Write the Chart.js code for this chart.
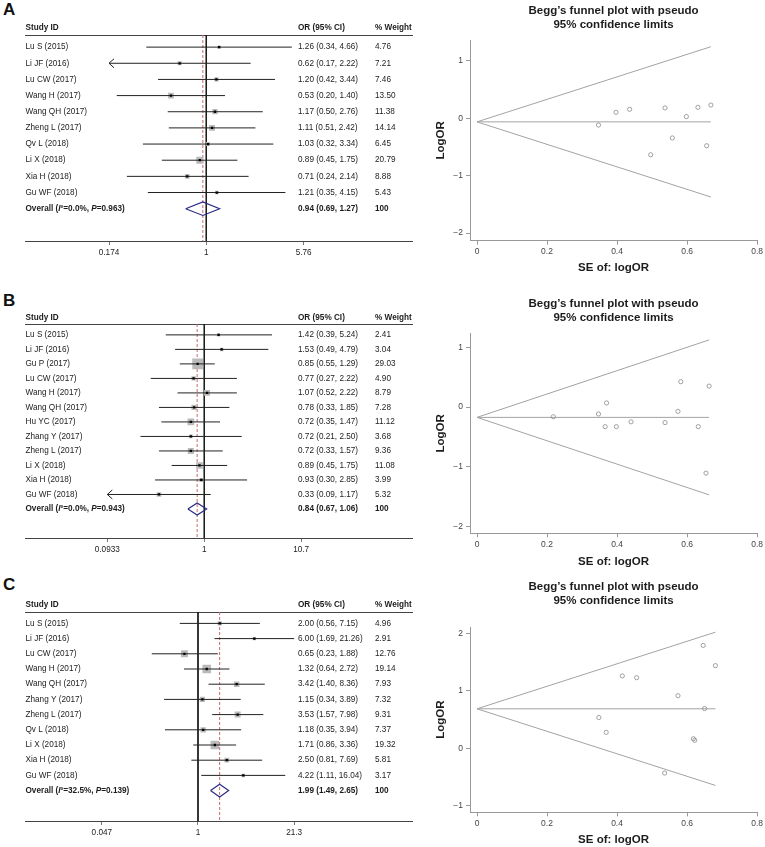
<!DOCTYPE html>
<html>
<head>
<meta charset="utf-8">
<script src="https://cdn.jsdelivr.net/npm/chart.js@4.4.1/dist/chart.umd.min.js"></script>
<style>
html,body{margin:0;padding:0;background:#fff;}
body{width:765px;height:847px;position:relative;overflow:hidden;font-family:"Liberation Sans",Arial,Helvetica,sans-serif;}
canvas{position:absolute;}
.lab{position:absolute;font-weight:bold;font-size:17px;line-height:17px;color:#111;}
</style>
</head>
<body>
<div class="lab" style="left:3px;top:1px">A</div>
<div class="lab" style="left:3px;top:292px">B</div>
<div class="lab" style="left:3px;top:576px">C</div>
<canvas id="forestA" width="420" height="270" style="left:0;top:0"></canvas>
<canvas id="forestB" width="420" height="270" style="left:0;top:290px"></canvas>
<canvas id="forestC" width="420" height="272" style="left:0;top:575px"></canvas>
<canvas id="funnelA" width="345" height="280" style="left:420px;top:0"></canvas>
<canvas id="funnelB" width="345" height="285" style="left:420px;top:285px"></canvas>
<canvas id="funnelC" width="345" height="277" style="left:420px;top:570px"></canvas>
<script>
// ================= DATA =================
// ---- Panel A ----
const studiesA = ["Lu S (2015)","Li JF (2016)","Lu CW (2017)","Wang H (2017)","Wang QH (2017)","Zheng L (2017)","Qv L (2018)","Li X (2018)","Xia H (2018)","Gu WF (2018)"];
const orA     = [1.26,0.62,1.20,0.53,1.17,1.11,1.03,0.89,0.71,1.21];
const loA     = [0.34,0.17,0.42,0.20,0.50,0.51,0.32,0.45,0.24,0.35];
const hiA     = [4.66,2.22,3.44,1.40,2.76,2.42,3.34,1.75,2.14,4.15];
const weightA = [4.76,7.21,7.46,13.50,11.38,14.14,6.45,20.79,8.88,5.43];
const overallA = [0.94,0.69,1.27];
const overallLabelA = "Overall (I\u00B2=0.0%, P=0.963)";
const xTicksA = [0.174,1,5.76];
const xTickLabelsA = ["0.174","1","5.76"];
const seA     = [0.668,0.656,0.537,0.496,0.436,0.397,0.598,0.347,0.558,0.631];
const logOrA  = [0.231,-0.478,0.182,-0.635,0.157,0.104,0.030,-0.117,-0.342,0.191];
const funnelA = [-0.062,0.668,1.247,-1.371];   // pooled logOR, max SE, upper limit, lower limit
const funnelYTicksA = [-2,-1,0,1];

// ---- Panel B ----
const studiesB = ["Lu S (2015)","Li JF (2016)","Gu P (2017)","Lu CW (2017)","Wang H (2017)","Wang QH (2017)","Hu YC (2017)","Zhang Y (2017)","Zheng L (2017)","Li X (2018)","Xia H (2018)","Gu WF (2018)"];
const orB     = [1.42,1.53,0.85,0.77,1.07,0.78,0.72,0.72,0.72,0.89,0.93,0.33];
const loB     = [0.39,0.49,0.55,0.27,0.52,0.33,0.35,0.21,0.33,0.45,0.30,0.09];
const hiB     = [5.24,4.79,1.29,2.22,2.22,1.85,1.47,2.50,1.57,1.75,2.85,1.17];
const weightB = [2.41,3.04,29.03,4.90,8.79,7.28,11.12,3.68,9.36,11.08,3.99,5.32];
const overallB = [0.84,0.67,1.06];
const overallLabelB = "Overall (I\u00B2=0.0%, P=0.943)";
const xTicksB = [0.0933,1,10.7];
const xTickLabelsB = ["0.0933","1","10.7"];
const seB     = [0.663,0.582,0.218,0.537,0.370,0.440,0.366,0.632,0.398,0.347,0.574,0.654];
const logOrB  = [0.351,0.425,-0.163,-0.261,0.068,-0.248,-0.329,-0.329,-0.329,-0.117,-0.073,-1.109];
const funnelB = [-0.174,0.663,1.126,-1.474];
const funnelYTicksB = [-2,-1,0,1];

// ---- Panel C ----
const studiesC = ["Lu S (2015)","Li JF (2016)","Lu CW (2017)","Wang H (2017)","Wang QH (2017)","Zhang Y (2017)","Zheng L (2017)","Qv L (2018)","Li X (2018)","Xia H (2018)","Gu WF (2018)"];
const orC     = [2.00,6.00,0.65,1.32,3.42,1.15,3.53,1.18,1.71,2.50,4.22];
const loC     = [0.56,1.69,0.23,0.64,1.40,0.34,1.57,0.35,0.86,0.81,1.11];
const hiC     = [7.15,21.26,1.88,2.72,8.36,3.89,7.98,3.94,3.36,7.69,16.04];
const weightC = [4.96,2.91,12.76,19.14,7.93,7.32,9.31,7.37,19.32,5.81,3.17];
const overallC = [1.99,1.49,2.65];
const overallLabelC = "Overall (I\u00B2=32.5%, P=0.139)";
const xTicksC = [0.047,1,21.3];
const xTickLabelsC = ["0.047","1","21.3"];
const seC     = [0.650,0.646,0.536,0.369,0.456,0.622,0.415,0.618,0.348,0.574,0.681];
const logOrC  = [0.693,1.792,-0.431,0.278,1.230,0.140,1.261,0.166,0.536,0.916,1.440];
const funnelC = [0.688,0.681,2.023,-0.647];
const funnelYTicksC = [-1,0,1,2];

// ---- shared ----
const headerLabels = ["Study ID","OR (95% CI)","% Weight"];
const overallWeight = "100";
const funnelXTicks = [0,0.2,0.4,0.6,0.8];
const funnelXTickLabels = ["0","0.2","0.4","0.6","0.8"];
const funnelTitle = ["Begg\u2019s funnel plot with pseudo","95% confidence limits"];
const funnelXTitle = "SE of: logOR";
const funnelYTitle = "LogOR";

// ================= DRAWING =================
const FONT = '"Liberation Sans", Arial, Helvetica, sans-serif';
const TXT = '#1c1c1c';
const FSIZE = 8.2;

// draws the overall label (with italic I and P), the OR (95% CI) and % Weight columns,
// and the arrows of truncated confidence intervals
const tablePlugin = {
  id: 'forestTable',
  afterDraw(chart, args, o) {
    if (!o || !o.rows) return;
    const xs = chart.scales.x, ys = chart.scales.y, ctx = chart.ctx, left = chart.chartArea.left;
    ctx.save();
    ctx.textBaseline = 'middle';
    ctx.textAlign = 'left';
    ctx.fillStyle = TXT;
    o.rows.forEach(r => {
      ctx.font = (r.bold ? 'bold ' : '') + FSIZE + 'px ' + FONT;
      const py = ys.getPixelForValue(r.y);
      ctx.fillText(r.c1, left + o.col1, py);
      ctx.fillText(r.c2, left + o.col2, py);
    });
    // overall label, rich text
    const py = ys.getPixelForValue(o.overallRow);
    let x = left;
    o.overallLabel.split(/(I(?=\u00B2)|P(?==))/).forEach((seg, k) => {
      if (!seg) return;
      ctx.font = (k % 2 === 1 ? 'italic ' : '') + 'bold ' + FSIZE + 'px ' + FONT;
      ctx.fillText(seg, x, py);
      x += ctx.measureText(seg).width;
    });
    ctx.strokeStyle = '#222';
    ctx.lineWidth = 1;
    o.lo.forEach((l, i) => {
      if (l < o.limit) {
        const px = xs.getPixelForValue(o.limit), pyy = ys.getPixelForValue(i);
        ctx.beginPath();
        ctx.moveTo(px + 5, pyy - 4.5);
        ctx.lineTo(px, pyy);
        ctx.lineTo(px + 5, pyy + 4.5);
        ctx.stroke();
      }
    });
    ctx.restore();
  }
};

function forest(id, d, g) {
  const n = d.studies.length;
  const yMin = -0.75, yMax = n + 2, headerRow = -1.2;
  const rowTicks = [headerRow].concat(d.studies.map((s, i) => i));
  const limLo = d.ticks[0], limHi = d.ticks[d.ticks.length - 1];
  const [o, ol, oh] = d.overall;
  const fmt = v => v.toFixed(2);
  const ds = [];
  ds.push({data: d.or.map((v, i) => ({x: v, y: i})), pointStyle: 'rect', pointRadius: 1.6,
           backgroundColor: '#000', borderWidth: 0, order: 0});
  ds.push({data: [{x: ol, y: n}, {x: o, y: n - 0.42}, {x: oh, y: n}, {x: o, y: n + 0.42}, {x: ol, y: n}],
           showLine: true, borderColor: '#2b2b85', borderWidth: 1.2, pointRadius: 0, fill: false, order: 1});
  d.lo.forEach((l, i) => ds.push({data: [{x: Math.max(l, limLo), y: i}, {x: Math.min(d.hi[i], limHi), y: i}],
           showLine: true, borderColor: '#222', borderWidth: 1, pointRadius: 0, order: 2}));
  ds.push({data: d.or.map((v, i) => ({x: v, y: i})), pointStyle: 'rect',
           pointRadius: d.w.map(w => Math.sqrt(w) * g.boxScale),
           backgroundColor: '#bababa', borderWidth: 0, order: 3});
  ds.push({data: [{x: 1, y: yMin}, {x: 1, y: yMax}], showLine: true, borderColor: '#1a1a1a',
           borderWidth: 1, pointRadius: 0, order: 4});
  ds.push({data: [{x: o, y: yMin}, {x: o, y: yMax}], showLine: true, borderColor: '#c96a6a',
           borderWidth: 1, borderDash: [3, 2], pointRadius: 0, order: 5});

  const rows = [{y: headerRow, c1: headerLabels[1], c2: headerLabels[2], bold: true}];
  d.or.forEach((v, i) => rows.push({y: i, c1: `${fmt(v)} (${fmt(d.lo[i])}, ${fmt(d.hi[i])})`, c2: fmt(d.w[i]), bold: false}));
  rows.push({y: n, c1: `${fmt(o)} (${fmt(ol)}, ${fmt(oh)})`, c2: overallWeight, bold: true});

  new Chart(document.getElementById(id), {
    type: 'scatter',
    data: {datasets: ds},
    plugins: [tablePlugin],
    options: {
      responsive: false, animation: false, events: [],
      layout: {padding: {left: 25.5, right: 8, top: g.padTop, bottom: g.padBottom}},
      plugins: {legend: {display: false}, tooltip: {enabled: false},
                forestTable: {rows: rows, col1: 272.5, col2: 349.5, lo: d.lo, limit: limLo,
                              overallRow: n, overallLabel: d.overallLabel}},
      scales: {
        x: {type: 'logarithmic', min: g.xmin, max: g.xmax, position: 'bottom',
            afterBuildTicks: s => { s.ticks = d.ticks.map(v => ({value: v})); },
            afterFit: s => { s.height = 20; },
            ticks: {autoSkip: false, maxRotation: 0, padding: 3, color: TXT,
                    font: {family: FONT, size: FSIZE}, callback: (v, i) => d.tickLabels[i]},
            grid: {drawOnChartArea: false, drawTicks: true, tickLength: 4, color: '#777'},
            border: {display: true, color: '#444', width: 1}},
        xTop: {type: 'linear', position: 'top', display: true,
               ticks: {display: false}, grid: {display: false, drawTicks: false},
               border: {display: true, color: '#444', width: 1},
               afterFit: s => { s.height = 0; }},
        y: {type: 'linear', min: yMin, max: yMax, reverse: true, position: 'left',
            grid: {display: false}, border: {display: false},
            afterFit: s => { s.width = 0; },
            afterBuildTicks: s => { s.ticks = rowTicks.map(v => ({value: v})); },
            ticks: {mirror: true, padding: 0, autoSkip: false, color: TXT,
                    font: c => ({family: FONT, size: FSIZE, weight: (c.tick && c.tick.value === headerRow) ? 'bold' : 'normal'}),
                    callback: v => v === headerRow ? headerLabels[0] : d.studies[v]}}
      }
    }
  });
}

function funnel(id, d, g) {
  const [theta, seMax, up, low] = d.limits;
  const lineDs = (y2) => ({data: [{x: 0, y: theta}, {x: seMax, y: y2}], showLine: true,
                           borderColor: '#a3a3a3', borderWidth: 1, pointRadius: 0, order: 2});
  const axisFont = {family: FONT, size: 11.5, weight: 'bold', lineHeight: 1.2174};
  new Chart(document.getElementById(id), {
    type: 'scatter',
    data: {datasets: [
      {data: d.se.map((s, i) => ({x: s, y: d.lr[i]})), pointStyle: 'circle', pointRadius: 2.1,
       borderColor: '#8a8a8a', backgroundColor: 'rgba(0,0,0,0)', borderWidth: 0.8, order: 0},
      lineDs(up), lineDs(low), lineDs(theta)
    ]},
    options: {
      responsive: false, animation: false, events: [],
      layout: {padding: {left: 0, right: 5, top: 0, bottom: 0}},
      plugins: {
        legend: {display: false}, tooltip: {enabled: false},
        title: {display: true, text: funnelTitle, fullSize: false, color: '#1c1c1c',
                font: axisFont, padding: {top: g.tPadTop, bottom: g.tPadBottom}}
      },
      scales: {
        x: {type: 'linear', min: -0.02, max: 0.8,
            afterBuildTicks: s => { s.ticks = funnelXTicks.map(v => ({value: v})); },
            afterFit: s => { s.height = g.xH; },
            ticks: {autoSkip: false, maxRotation: 0, padding: 2, color: '#444',
                    font: {family: FONT, size: 8.5}, callback: (v, i) => funnelXTickLabels[i]},
            grid: {drawOnChartArea: false, drawTicks: true, tickLength: 4, color: '#999'},
            border: {display: true, color: '#999', width: 1},
            title: {display: true, text: funnelXTitle, color: '#1c1c1c', font: axisFont,
                    padding: {top: 0, bottom: g.xTitlePad}}},
        y: {type: 'linear', min: g.ymin, max: g.ymax,
            afterBuildTicks: s => { s.ticks = d.yTicks.map(v => ({value: v})); },
            afterFit: s => { s.width = 50; },
            ticks: {autoSkip: false, padding: 3, color: '#444', font: {family: FONT, size: 8.5},
                    callback: v => v < 0 ? '\u2212' + Math.abs(v) : String(v)},
            grid: {drawOnChartArea: false, drawTicks: true, tickLength: 4, color: '#999'},
            border: {display: true, color: '#999', width: 1},
            title: {display: true, text: funnelYTitle, color: '#1c1c1c', font: axisFont,
                    padding: {top: 14, bottom: 0}}}
      }
    }
  });
}

forest('forestA', {studies: studiesA, or: orA, lo: loA, hi: hiA, w: weightA, overall: overallA,
                   overallLabel: overallLabelA, ticks: xTicksA, tickLabels: xTickLabelsA},
       {padTop: 35, padBottom: 9, xmin: 0.03877, xmax: 40.4, boxScale: 1.1});
forest('forestB', {studies: studiesB, or: orB, lo: loB, hi: hiB, w: weightB, overall: overallB,
                   overallLabel: overallLabelB, ticks: xTicksB, tickLabels: xTickLabelsB},
       {padTop: 34, padBottom: 2, xmin: 0.01261, xmax: 161, boxScale: 1.41});
forest('forestC', {studies: studiesC, or: orC, lo: loC, hi: hiC, w: weightC, overall: overallC,
                   overallLabel: overallLabelC, ticks: xTicksC, tickLabels: xTickLabelsC},
       {padTop: 37, padBottom: 6, xmin: 0.00415, xmax: 902, boxScale: 1.38});

funnel('funnelA', {se: seA, lr: logOrA, limits: funnelA, yTicks: funnelYTicksA},
       {ymin: -2.132, ymax: 1.364, tPadTop: 4, tPadBottom: 8, xH: 39.3, xTitlePad: 5});
funnel('funnelB', {se: seB, lr: logOrB, limits: funnelB, yTicks: funnelYTicksB},
       {ymin: -2.119, ymax: 1.237, tPadTop: 12, tPadBottom: 8.3, xH: 36.7, xTitlePad: 1.3});
funnel('funnelC', {se: seC, lr: logOrC, limits: funnelC, yTicks: funnelYTicksC},
       {ymin: -1.115, ymax: 2.113, tPadTop: 9.7, tPadBottom: 19.3, xH: 34.7, xTitlePad: 0});
</script>
</body>
</html>
